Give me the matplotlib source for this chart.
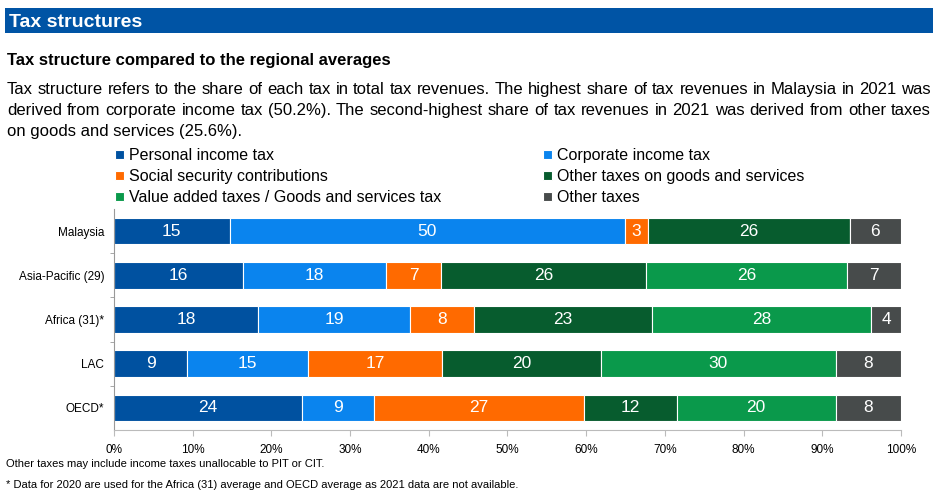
import matplotlib
matplotlib.use("Agg")
import matplotlib.pyplot as plt
from matplotlib.patches import Rectangle
import numpy as np

# Data (shares of total tax revenues, %)
regions = ["Malaysia", "Asia-Pacific (29)", "Africa (31)*", "LAC", "OECD*"]
series_names = [
    "Personal income tax",
    "Corporate income tax",
    "Social security contributions",
    "Other taxes on goods and services",
    "Value added taxes / Goods and services tax",
    "Other taxes",
]
personal_income = [14.7, 16.4, 18.3, 9.3, 23.9]
corporate_income = [50.2, 18.2, 19.3, 15.4, 9.1]
social_security = [3.0, 6.9, 8.1, 17.0, 26.7]
other_goods = [25.6, 26.1, 22.7, 20.2, 11.8]
vat_gst = [0.0, 25.5, 27.8, 29.8, 20.2]
other_taxes = [6.5, 6.9, 3.8, 8.3, 8.3]
colors = ["#0051a0", "#0a84ee", "#ff6a00", "#075c2e", "#0a994b", "#474b4b"]

W, H = 937, 498
fig = plt.figure(figsize=(W / 100, H / 100), dpi=100)
plain = ["Liberation Sans", "DejaVu Sans"]


def fx(px):
    return px / W


def fy(py):
    return 1 - py / H


# header band
fig.patches.append(Rectangle((fx(5), fy(33)), fx(928), 25 / H, transform=fig.transFigure,
                             facecolor="#0054a5", edgecolor="none"))
fig.text(fx(9), fy(27), "Tax structures", color="white", fontsize=14, fontweight="bold",
         family=plain, va="baseline")
fig.text(fx(7), fy(65), "Tax structure compared to the regional averages", fontsize=12,
         fontweight="bold", family=plain, va="baseline")

para = [
    "Tax structure refers to the share of each tax in total tax revenues. The highest share of tax revenues in Malaysia in 2021 was",
    "derived from corporate income tax (50.2%). The second-highest share of tax revenues in 2021 was derived from other taxes",
    "on goods and services (25.6%).",
]
para_y = [94, 115, 136]
renderer = fig.canvas.get_renderer()
left_px, right_px = 7, 931
for i, (line, yb) in enumerate(zip(para, para_y)):
    if i == len(para) - 1:
        fig.text(fx(left_px), fy(yb), line, fontsize=12, family=plain, va="baseline")
        continue
    # justify the line word by word
    words = line.split(" ")
    tmp = [fig.text(0, 0, w, fontsize=12, family=plain) for w in words]
    widths = [t.get_window_extent(renderer).width for t in tmp]
    for t in tmp:
        t.remove()
    gap = (right_px - left_px - sum(widths)) / (len(words) - 1)
    x = left_px
    for w, wd in zip(words, widths):
        fig.text(fx(x), fy(yb), w, fontsize=12, family=plain, va="baseline")
        x += wd + gap

# chart
ax = fig.add_axes([fx(114), fy(430), fx(787), 221 / H])
y = np.arange(len(regions))
data = [personal_income, corporate_income, social_security, other_goods, vat_gst, other_taxes]
left = np.zeros(len(regions))
handles = []
for name, vals, c in zip(series_names, data, colors):
    vals = np.array(vals)
    bars = ax.barh(y, vals, left=left, height=0.6, color=c, edgecolor="white",
                   linewidth=0.8, label=name)
    labels = [f"{v:.0f}" if v > 0 else "" for v in vals]
    ax.bar_label(bars, labels=labels, label_type="center", color="white", fontsize=12.5,
                 family=plain)
    handles.append(bars)
    left += vals

ax.set_xlim(0, 100)
ax.set_ylim(4.5, -0.5)
ax.set_yticks(y)
ax.set_yticklabels(regions, family=plain, fontsize=8.5)
ax.set_yticks(np.arange(0.5, 4.5, 1), minor=True)
ax.tick_params(axis="y", which="major", length=0, pad=7)
ax.tick_params(axis="y", which="minor", length=3, color="#999999")
ax.set_xticks(np.arange(0, 101, 10))
ax.set_xticklabels([f"{v}%" for v in range(0, 101, 10)], family=plain, fontsize=8.5)
ax.tick_params(axis="x", length=4, color="#bbbbbb", pad=6)
for s in ["top", "right"]:
    ax.spines[s].set_visible(False)
ax.spines["left"].set_color("#999999")
ax.spines["bottom"].set_color("#bbbbbb")

# legend in two columns
col1 = [handles[0], handles[2], handles[4]]
col2 = [handles[1], handles[3], handles[5]]
for hs, xpx in [(col1, 115), (col2, 543)]:
    fig.legend(handles=hs, labels=[h.get_label() for h in hs], loc="upper left",
               bbox_to_anchor=(fx(xpx), fy(148)), frameon=False, ncol=1,
               prop={"family": plain, "size": 11.5}, handlelength=0.55, handleheight=0.55,
               handletextpad=0.35, labelspacing=0.38, borderaxespad=0, borderpad=0)

fig.text(fx(6), fy(467), "Other taxes may include income taxes unallocable to PIT or CIT.",
         fontsize=8, family=plain, va="baseline")
fig.text(fx(6), fy(488), "* Data for 2020 are used for the Africa (31) average and OECD average as 2021 data are not available.",
         fontsize=8, family=plain, va="baseline")

fig.savefig("out.png", dpi=100)
